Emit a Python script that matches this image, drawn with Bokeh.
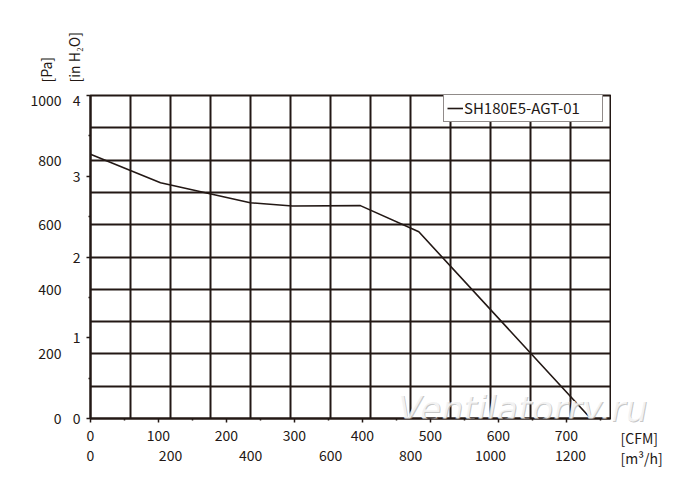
from bokeh.plotting import figure
from bokeh.layouts import column, row
from bokeh.models import (Range1d, LinearAxis, FixedTicker, Grid, Legend,
                          LegendItem, Label)
from bokeh.embed import file_html
from bokeh.resources import INLINE

# ---- data ----
cfm = [0, 103, 235, 297, 397, 483, 736]
pa = [818, 730, 668, 658, 659, 578, 0]
series_name = "SH180E5-AGT-01"

cfm_ticks = [0, 100, 200, 300, 400, 500, 600, 700]
cfm_minor = [50, 150, 250, 350, 450, 550, 650, 750]
m3h_ticks = [0, 200, 400, 600, 800, 1000, 1200]
pa_ticks = [0, 200, 400, 600, 800, 1000]
inh2o_ticks = [0, 1, 2, 3, 4]
inh2o_minor = [0.5, 1.5, 2.5, 3.5]

X_MAX = 765          # CFM at the right edge of the chart
Y_MAX = 1000         # Pa at the top
INH2O_MAX = 4
M3H_PER_CFM = 1.699
N_XCELLS = 13
N_YCELLS = 10

INK = "#231815"
FONT = "Noto Sans CJK JP"
FS = "14px"
WM_TEXT = "Ventilatorry.ru"

TOP_H = 94
MAIN_W = 611
MAIN_H = 397
RIGHT_W = 81
RIGHT_TOP_H = 330
RIGHT_BOT_H = MAIN_H - RIGHT_TOP_H


def blank(width, height):
    f = figure(width=width, height=height, x_range=Range1d(0, 1),
               y_range=Range1d(0, 1), x_axis_location=None,
               y_axis_location=None, output_backend="svg",
               toolbar_location=None, min_border=0)
    f.center = [c for c in f.center if not isinstance(c, Grid)]
    f.outline_line_color = None
    f.background_fill_color = "white"
    f.border_fill_color = "white"
    return f


def lab(fig, text, x, y, **kw):
    # canvas units: pixels from the top-left corner of that figure's canvas
    opts = dict(x=x, y=y, x_units="canvas", y_units="canvas", text=text,
                text_font=FONT, text_font_size=FS, text_color=INK,
                text_baseline="middle", text_align="left")
    opts.update(kw)
    fig.add_layout(Label(**opts))


def watermark(fig, x, y):
    lab(fig, WM_TEXT, x + 1, y + 1, text_font="DejaVu Sans",
        text_font_style="italic", text_font_size="35px",
        text_color="#b8b8b8", text_alpha=0.8, text_baseline="alphabetic")
    lab(fig, WM_TEXT, x, y, text_font="DejaVu Sans",
        text_font_style="italic", text_font_size="35px",
        text_color="white", text_alpha=0.8, text_baseline="alphabetic")


# ---- main chart ----
p = figure(width=MAIN_W, height=MAIN_H,
           x_range=Range1d(0, X_MAX), y_range=Range1d(0, Y_MAX),
           x_axis_location=None, y_axis_location=None,
           output_backend="svg", toolbar_location=None,
           min_border_left=90, min_border_right=1,
           min_border_top=1, min_border_bottom=73)
p.extra_x_ranges = {"m3h": Range1d(0, X_MAX * M3H_PER_CFM)}
p.extra_y_ranges = {"in": Range1d(0, INH2O_MAX)}
p.center = [c for c in p.center if not isinstance(c, Grid)]
p.background_fill_color = "white"
p.border_fill_color = "white"
p.outline_line_color = INK
p.outline_line_width = 2

xg = [X_MAX * i / N_XCELLS for i in range(1, N_XCELLS)]
yg = [Y_MAX * i / N_YCELLS for i in range(1, N_YCELLS)]
p.add_layout(Grid(dimension=0, ticker=FixedTicker(ticks=xg),
                  grid_line_color=INK, grid_line_width=2), "center")
p.add_layout(Grid(dimension=1, ticker=FixedTicker(ticks=yg),
                  grid_line_color=INK, grid_line_width=2), "center")


def style(ax, line=True, standoff=6, tick_out=4, minor_out=2):
    ax.major_label_text_font = FONT
    ax.major_label_text_font_size = FS
    ax.major_label_text_color = INK
    ax.major_label_standoff = standoff
    ax.major_tick_in = 0
    ax.minor_tick_in = 0
    ax.major_tick_out = tick_out
    ax.minor_tick_out = minor_out
    if line:
        ax.axis_line_color = INK
        ax.axis_line_width = 2
        ax.major_tick_line_color = INK
        ax.major_tick_line_width = 1.5
        ax.minor_tick_line_color = INK
        ax.minor_tick_line_width = 1.5
    else:
        ax.axis_line_color = None
        ax.major_tick_line_color = None
        ax.minor_tick_line_color = None


ax_in = LinearAxis(y_range_name="in",
                   ticker=FixedTicker(ticks=inh2o_ticks, minor_ticks=inh2o_minor))
style(ax_in, standoff=6)
p.add_layout(ax_in, "left")

ax_pa = LinearAxis(ticker=FixedTicker(ticks=pa_ticks))
style(ax_pa, line=False, standoff=8, tick_out=0, minor_out=0)
p.add_layout(ax_pa, "left")

ax_cfm = LinearAxis(ticker=FixedTicker(ticks=cfm_ticks, minor_ticks=cfm_minor))
style(ax_cfm, standoff=7)
p.add_layout(ax_cfm, "below")

ax_m3h = LinearAxis(x_range_name="m3h", ticker=FixedTicker(ticks=m3h_ticks))
style(ax_m3h, line=False, standoff=6, tick_out=0, minor_out=0)
p.add_layout(ax_m3h, "below")

line_r = p.line(cfm, pa, line_color=INK, line_width=1.6)

legend = Legend(items=[LegendItem(label=series_name, renderers=[line_r])],
                location=(353, 296), padding=3, spacing=0, margin=0,
                glyph_width=16, glyph_height=20, label_standoff=1,
                label_height=20, label_width=135,
                label_text_font=FONT, label_text_font_size="15px",
                label_text_color=INK,
                border_line_color=INK, border_line_width=1.5,
                background_fill_color="white", background_fill_alpha=1)
p.add_layout(legend)

watermark(p, 397, 408 - TOP_H)

# ---- strip above the chart: vertical unit labels ----
top = blank(MAIN_W + RIGHT_W, TOP_H)
lab(top, "[Pa]", 46, 82, angle=1.5708)
lab(top, "[in H₂O]", 74, 82, angle=1.5708)

# ---- right of the chart: end of the watermark ----
right_top = blank(RIGHT_W, RIGHT_TOP_H)
watermark(right_top, 397 - MAIN_W, 408 - TOP_H)

# ---- right of the bottom axes: horizontal unit labels ----
right_bot = blank(RIGHT_W, RIGHT_BOT_H)
lab(right_bot, "[CFM]", 9, 437 - TOP_H - RIGHT_TOP_H)
lab(right_bot, "[m³/h]", 9, 457 - TOP_H - RIGHT_TOP_H)

layout = column(top,
                row(p, column(right_top, right_bot, spacing=0), spacing=0),
                spacing=0)
open("out.html", "w").write(file_html(layout, INLINE))
